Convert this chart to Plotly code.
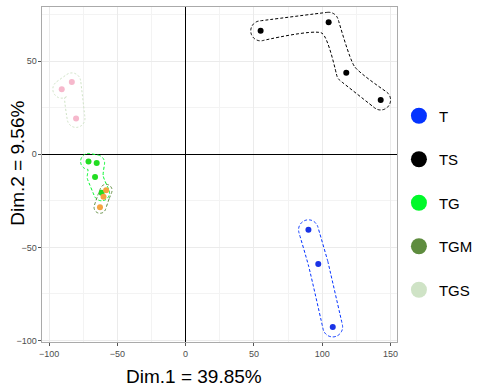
import numpy as np
import plotly.graph_objects as go

# ---- data ----
groups = ["T", "TS", "TG", "TGM", "TGS"]
T_x = [89.9, 97.1, 107.7]
T_y = [-40.6, -58.9, -92.7]
TS_x = [54.9, 104.7, 117.6, 142.8]
TS_y = [66.2, 70.8, 43.7, 29.1]
TG_x = [-71.1, -65.1, -66.3, -61.5]
TG_y = [-3.9, -4.7, -12.2, -20.7]
TGM_x = [-58.2, -60.1, -62.7]
TGM_y = [-19.4, -22.9, -28.5]
TGS_x = [-90.7, -83.3, -80.2]
TGS_y = [34.9, 38.8, 19.2]
x_ticks = [-100, -50, 0, 50, 100, 150]
y_ticks = [-100, -50, 0, 50]
x_title = "Dim.1 = 39.85%"
y_title = "Dim.2 = 9.56%"

legend_colors = {"T": "#0433FF", "TS": "#000000", "TG": "#00F92A",
                 "TGM": "#5E8C3E", "TGS": "#CFE3C6"}
point_colors = {"T": "#1a33e6", "TS": "#000000", "TG": "#22dd22",
                "TGM": "#F5A340", "TGS": "#F6B8CC"}
hull_dash = {"T": "3px,2px", "TS": "3px,2px", "TG": "3px,2px",
             "TGM": "3px,2px", "TGS": "2px,2px"}
data = {"T": (T_x, T_y), "TS": (TS_x, TS_y), "TG": (TG_x, TG_y),
        "TGM": (TGM_x, TGM_y), "TGS": (TGS_x, TGS_y)}

W, H = 478, 387
px_l, px_r, px_t, px_b = 43, 402, 7, 342
xr = [-104.8, 154.7]
yr = [-100.8, 79.0]
sx = (px_r - px_l) / (xr[1] - xr[0])
sy = (px_b - px_t) / (yr[1] - yr[0])


def buffer_path(xs, ys, r=8.0, n=10):
    # buffered polyline outline computed in pixel space
    P = np.column_stack([np.array(xs) * sx, np.array(ys) * sy])

    def side(Pts):
        out = []
        segs = [Pts[i + 1] - Pts[i] for i in range(len(Pts) - 1)]
        norms = []
        for d in segs:
            d = d / np.linalg.norm(d)
            norms.append(np.array([-d[1], d[0]]))
        out.append(Pts[0] + r * norms[0])
        for i in range(1, len(Pts) - 1):
            n1, n2 = norms[i - 1], norms[i]
            d1 = segs[i - 1]; d2 = segs[i]
            cross = d1[0] * d2[1] - d1[1] * d2[0]
            if cross < 0:
                a1 = np.arctan2(n1[1], n1[0]); a2 = np.arctan2(n2[1], n2[0])
                while a2 > a1:
                    a2 -= 2 * np.pi
                for t in np.linspace(a1, a2, n):
                    out.append(Pts[i] + r * np.array([np.cos(t), np.sin(t)]))
            else:
                b = n1 + n2
                b = b / np.linalg.norm(b)
                cosh = np.dot(b, n1)
                out.append(Pts[i] + b * r / max(cosh, 0.3))
        out.append(Pts[-1] + r * norms[-1])
        return out, norms

    left, nl = side(P)
    right, nr = side(P[::-1])
    pts = list(left)
    a1 = np.arctan2(nl[-1][1], nl[-1][0])
    for t in np.linspace(a1, a1 - np.pi, n * 2):
        pts.append(P[-1] + r * np.array([np.cos(t), np.sin(t)]))
    pts += right
    a1 = np.arctan2(nr[-1][1], nr[-1][0])
    for t in np.linspace(a1, a1 - np.pi, n * 2):
        pts.append(P[0] + r * np.array([np.cos(t), np.sin(t)]))
    pts.append(pts[0])
    pts = np.array(pts)
    return pts[:, 0] / sx, pts[:, 1] / sy


fig = go.Figure()
radii = {"T": 10, "TS": 10, "TG": 8, "TGM": 6, "TGS": 9}
for g in groups:
    xs, ys = data[g]
    hx, hy = buffer_path(xs, ys, r=radii[g])
    fig.add_trace(go.Scatter(x=hx, y=hy, mode="lines", showlegend=False,
                             line=dict(color=legend_colors[g], width=1,
                                       dash=hull_dash[g], shape="spline", smoothing=0.6),
                             hoverinfo="skip"))
for g in groups:
    xs, ys = data[g]
    fig.add_trace(go.Scatter(x=xs, y=ys, mode="markers", showlegend=False,
                             marker=dict(color=point_colors[g], size=6)))
for g in groups:
    fig.add_trace(go.Scatter(x=[None], y=[None], mode="markers", name=g,
                             legendgroup=g,
                             marker=dict(color=legend_colors[g], size=16)))

font_fam = "Liberation Sans, Arial"
tick_font = dict(family=font_fam, size=9, color="#4D4D4D")
title_font = dict(family=font_fam, size=19, color="black")
axis_common = dict(showgrid=True, gridcolor="#EBEBEB", gridwidth=1,
                   zeroline=True, zerolinecolor="black", zerolinewidth=1,
                   showline=True, linecolor="#AAAAAA", mirror=True,
                   ticks="outside", ticklen=3, tickcolor="#555555",
                   tickfont=tick_font, automargin=False)
fig.update_layout(
    width=W, height=H, autosize=False,
    margin=dict(l=0, r=0, t=0, b=0),
    plot_bgcolor="white", paper_bgcolor="white",
    xaxis=dict(range=xr, tickvals=x_ticks, domain=[px_l / W, px_r / W],
               minor=dict(showgrid=True, gridcolor="#F3F3F3",
                          tickvals=[-75, -25, 25, 75, 125], ticks=""),
               **axis_common),
    yaxis=dict(range=yr, tickvals=y_ticks, domain=[1 - px_b / H, 1 - px_t / H],
               minor=dict(showgrid=True, gridcolor="#F3F3F3",
                          tickvals=[-75, -25, 25, 75], ticks=""),
               **axis_common),
    legend=dict(x=404 / W, xanchor="left", y=1 - 203 / H, yanchor="middle",
                font=dict(family=font_fam, size=15, color="black"),
                tracegroupgap=21, itemsizing="trace", bgcolor="rgba(0,0,0,0)"),
    showlegend=True,
    annotations=[
        dict(text=x_title, xref="paper", yref="paper", x=196 / W, y=1 - 376 / H,
             xanchor="center", yanchor="middle", showarrow=False, font=title_font),
        dict(text=y_title, xref="paper", yref="paper", x=17.5 / W, y=1 - 163.5 / H,
             xanchor="center", yanchor="middle", showarrow=False, font=title_font,
             textangle=-90),
    ],
)
post = ("document.body.style.margin='0';document.body.style.overflow='hidden';"
        "var gd=document.getElementById('{plot_id}');"
        "gd.style.width='478px';gd.style.height='387px';"
        "Plotly.relayout(gd,{width:478,height:387});")
fig.write_html("out.html",
               config={"displayModeBar": False, "responsive": False},
               post_script=post)
